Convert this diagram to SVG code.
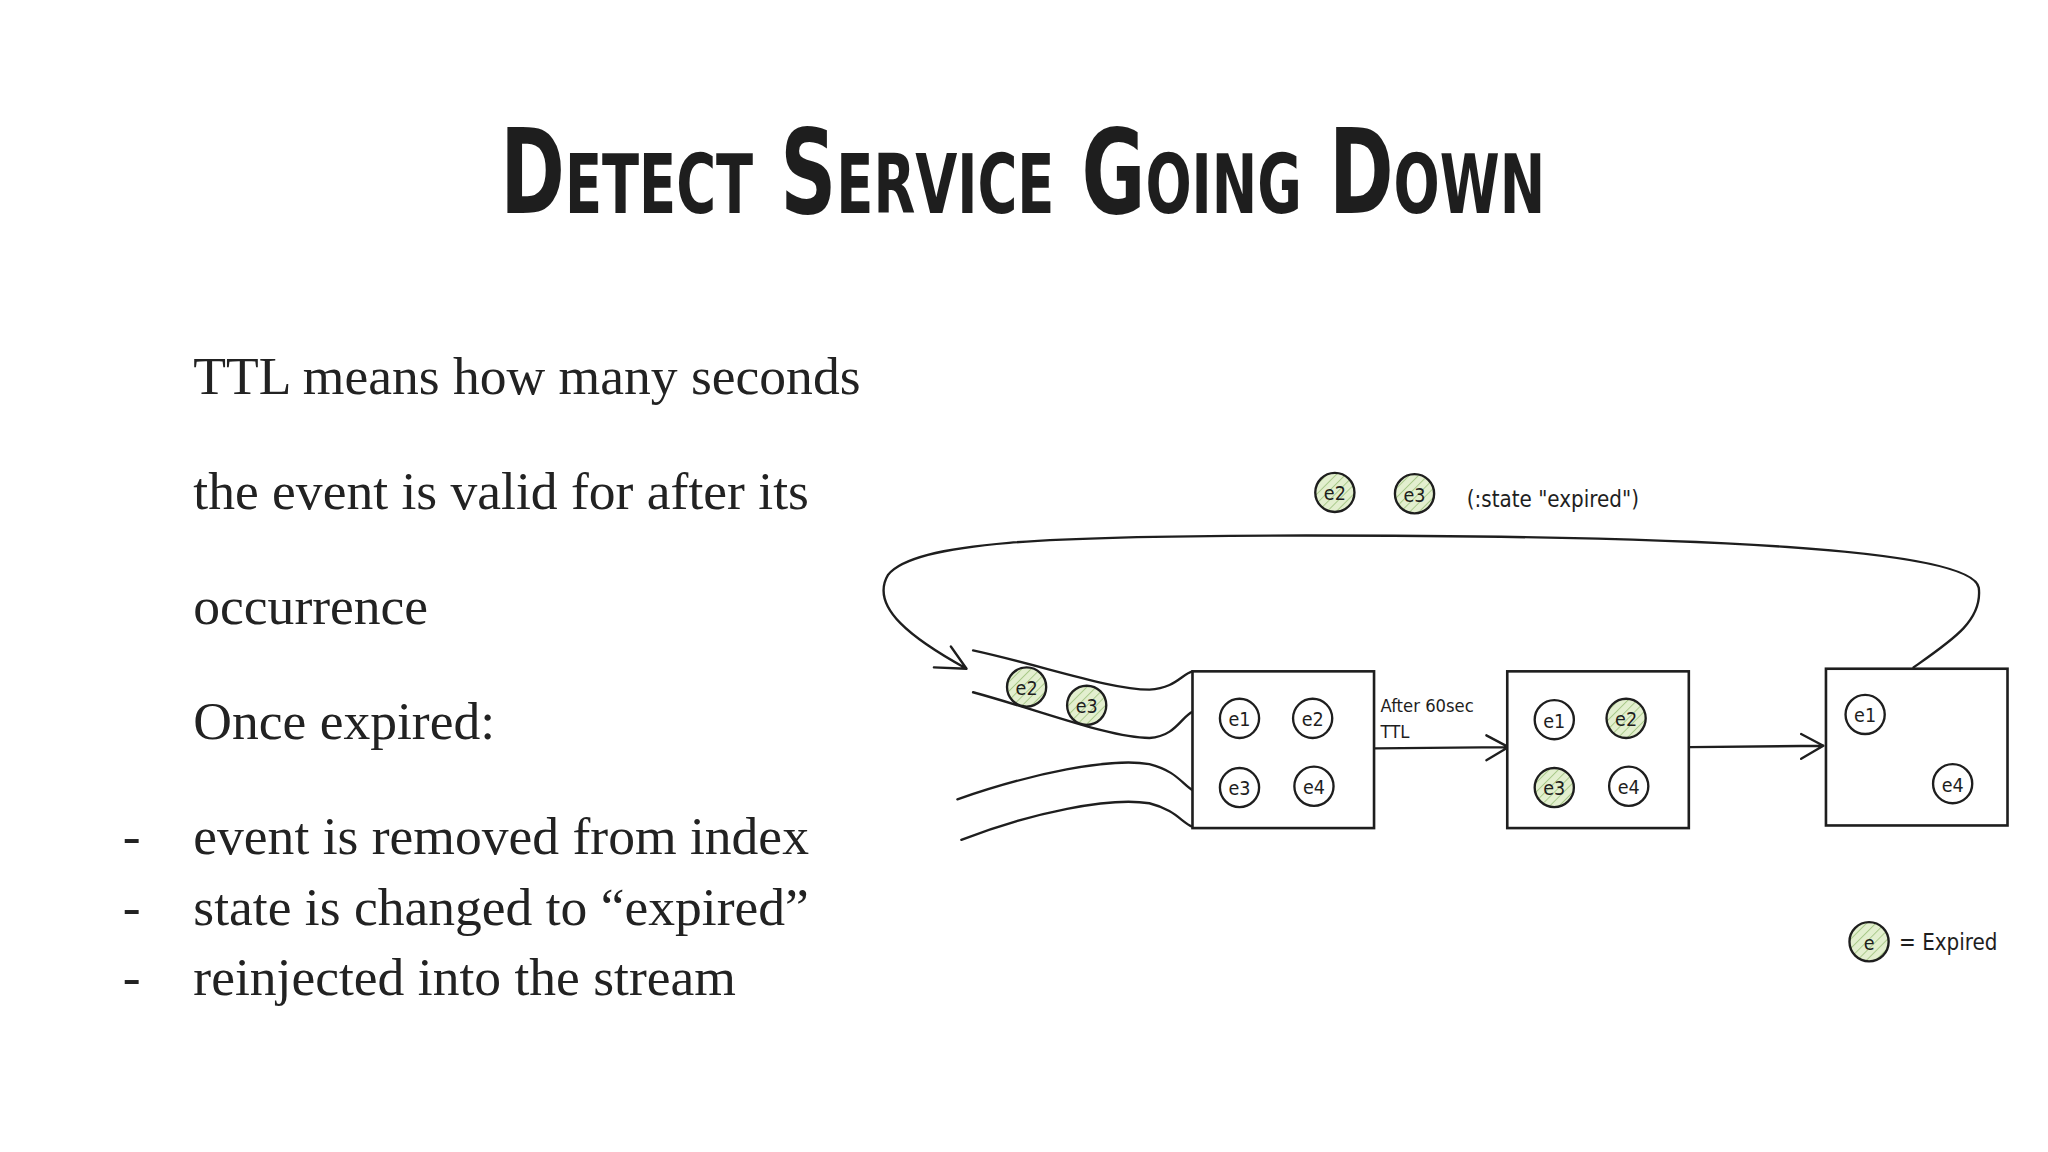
<svg xmlns="http://www.w3.org/2000/svg" width="2048" height="1152" viewBox="0 0 2048 1152">
<defs>
<pattern id="hatch" width="5" height="5" patternUnits="userSpaceOnUse" patternTransform="rotate(45)">
<rect width="5" height="5" fill="#e3efcf"/>
<line x1="0" y1="0" x2="0" y2="5" stroke="#a9c98a" stroke-width="1.5"/>
</pattern>
<style>
.t{font-family:"Liberation Serif",serif;font-size:41px;fill:#222}
.h{font-family:"DejaVu Sans Condensed","DejaVu Sans",sans-serif;fill:#1e1e1e}
.c{fill:#fff;stroke:#1e1e1e;stroke-width:1.8}
.g{fill:url(#hatch);stroke:#1e1e1e;stroke-width:1.8}
.ct{font-family:"DejaVu Sans Condensed","DejaVu Sans",sans-serif;font-size:15px;text-anchor:middle;fill:#1e1e1e}
.box{fill:#fff;stroke:#1e1e1e;stroke-width:2}
.ln{fill:none;stroke:#1e1e1e;stroke-width:1.8;stroke-linecap:round}
</style>
</defs>
<rect width="2048" height="1152" fill="#fff"/>
<g transform="scale(1.30612)">
<g id="title"><text x="783" y="163" text-anchor="middle" class="h" font-size="90" font-weight="bold" font-variant="small-caps" textLength="800" lengthAdjust="spacingAndGlyphs">Detect Service Going Down</text></g>
<g id="text">
<text class="t" x="148" y="302">TTL means how many seconds</text>
<text class="t" x="148" y="390">the event is valid for after its</text>
<text class="t" x="148" y="478">occurrence</text>
<text class="t" x="148" y="566">Once expired:</text>
<text class="t" x="94" y="654">-</text><text class="t" x="148" y="654">event is removed from index</text>
<text class="t" x="94" y="708">-</text><text class="t" x="148" y="708">state is changed to “expired”</text>
<text class="t" x="94" y="762">-</text><text class="t" x="148" y="762">reinjected into the stream</text>
</g>
<g id="connectors">
<path class="ln" d="M1465,511 C1495,490 1518,475 1515,450 C1510,420 1300,410 1000,410 C800,410 700,415 680,440 C665,465 700,490 740,512 M740,512 L715,511 M740,512 L728,495"/>
<path class="ln" d="M1053,573 L1155,572 M1155,572 L1138,563 M1155,572 L1138,582"/>
<path class="ln" d="M1294,572 L1396,571 M1396,571 L1379,562 M1396,571 L1379,581"/>
<path class="ln" d="M745,498 C800,510 850,528 880,528 C900,527 905,516 913,514"/>
<path class="ln" d="M745,530 C800,545 850,565 880,565 C900,564 905,548 913,545"/>
<path class="ln" d="M733,612 C790,592 850,580 880,585 C900,590 905,600 913,605"/>
<path class="ln" d="M736,643 C790,622 850,610 880,615 C900,620 905,630 913,633"/>
</g>
<g id="box1"><rect class="box" x="913" y="514" width="139" height="120"/>
<circle class="c" cx="949" cy="550" r="15"/><text class="ct" x="949" y="556">e1</text>
<circle class="c" cx="1005" cy="550" r="15"/><text class="ct" x="1005" y="556">e2</text>
<circle class="c" cx="949" cy="603" r="15"/><text class="ct" x="949" y="609">e3</text>
<circle class="c" cx="1006" cy="602" r="15"/><text class="ct" x="1006" y="608">e4</text></g>
<g id="label"><text class="h" font-size="14" x="1057" y="545">After 60sec</text><text class="h" font-size="14" x="1057" y="565">TTL</text></g>
<g id="box2"><rect class="box" x="1154" y="514" width="139" height="120"/>
<circle class="c" cx="1190" cy="551" r="15"/><text class="ct" x="1190" y="557">e1</text>
<circle class="g" cx="1245" cy="550" r="15"/><text class="ct" x="1245" y="556">e2</text>
<circle class="g" cx="1190" cy="603" r="15"/><text class="ct" x="1190" y="609">e3</text>
<circle class="c" cx="1247" cy="602" r="15"/><text class="ct" x="1247" y="608">e4</text></g>
<g id="box3"><rect class="box" x="1398" y="512" width="139" height="120"/>
<circle class="c" cx="1428" cy="547" r="15"/><text class="ct" x="1428" y="553">e1</text>
<circle class="c" cx="1495" cy="600" r="15"/><text class="ct" x="1495" y="606">e4</text></g>
<g id="stream">
<circle class="g" cx="786" cy="526" r="15"/><text class="ct" x="786" y="532">e2</text>
<circle class="g" cx="832" cy="540" r="15"/><text class="ct" x="832" y="546">e3</text></g>
<g id="expired">
<circle class="g" cx="1022" cy="377" r="15"/><text class="ct" x="1022" y="383">e2</text>
<circle class="g" cx="1083" cy="378" r="15"/><text class="ct" x="1083" y="384">e3</text>
<text class="h" font-size="17" x="1123" y="388">(:state "expired")</text></g>
<g id="legend">
<circle class="g" cx="1431" cy="721" r="15"/><text class="ct" x="1431" y="727">e</text>
<text class="h" font-size="17" x="1454" y="727">= Expired</text></g>
</g>
</svg>
